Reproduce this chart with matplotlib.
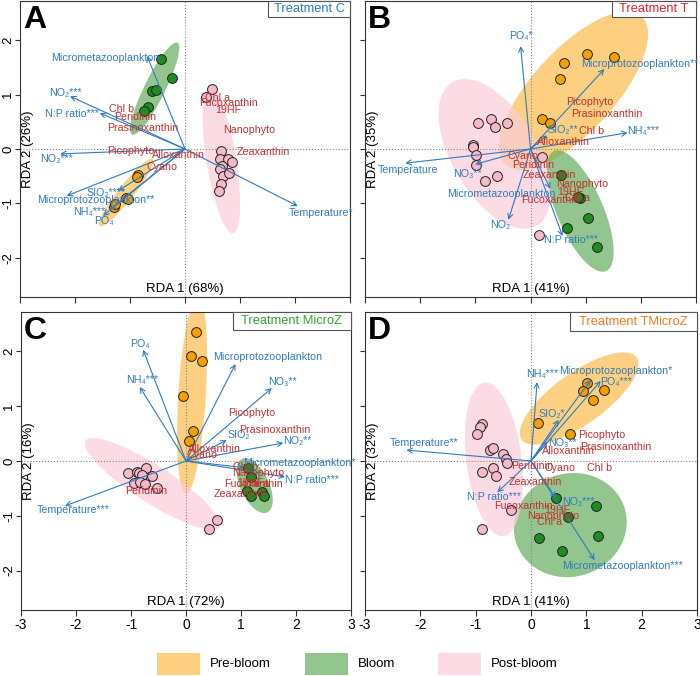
import matplotlib
matplotlib.use('Agg')
import matplotlib.pyplot as plt
from matplotlib.patches import Ellipse, Rectangle

plt.rcParams['font.family'] = ['Liberation Sans', 'DejaVu Sans']
plt.rcParams['axes.unicode_minus'] = False

# ---------------- panel A (Treatment C) ----------------
a_pre_x = [-0.85, -0.88, -1.08, -1.04, -1.30, -1.28]
a_pre_y = [-0.48, -0.51, -0.90, -0.92, -1.06, -1.01]
a_bloom_x = [-0.44, -0.24, -0.60, -0.53, -0.68, -0.75]
a_bloom_y = [1.65, 1.31, 1.06, 1.08, 0.78, 0.69]
a_post_x = [0.49, 0.38, 0.65, 0.64, 0.78, 0.86, 0.67, 0.64, 0.69, 0.80, 0.65, 0.62]
a_post_y = [1.10, 0.96, -0.04, -0.19, -0.19, -0.23, -0.31, -0.37, -0.50, -0.45, -0.65, -0.77]
# ellipses: cx, cy, length, width, angle  (pre, bloom, post)
a_ell = [(-1.07, -0.80, 1.56, 0.28, 52), (-0.55, 1.11, 1.88, 0.38, 64), (0.66, -0.20, 2.74, 0.54, 99)]
a_env = ['Micrometazooplankton', 'NO₂***', 'N:P ratio***', 'NO₃***', 'SIO₂****',
         'Microprotozooplankton**', 'NH₄***', 'PO₄', 'Temperature*']
a_env_x = [-0.69, -2.09, -1.55, -2.27, -1.22, -2.15, -1.49, -1.38, 2.05]
a_env_y = [1.71, 0.97, 0.66, -0.09, -0.77, -0.86, -1.23, -1.12, -1.05]
a_env_lx = [-1.44, -2.18, -2.05, -2.33, -1.44, -1.62, -1.75, -1.47, 2.47]
a_env_ly = [1.67, 1.03, 0.64, -0.19, -0.80, -0.93, -1.16, -1.32, -1.17]
a_spp = ['Chl b', 'Peridinin', 'Prasinoxanthin', 'Picophyto', 'Alloxanthin', 'Cyano',
         'Chl a', 'Fucoxanthin', '19HF', 'Nanophyto', 'Zeaxanthin']
a_spp_x = [-1.15, -0.90, -0.77, -0.98, -0.11, -0.42, 0.60, 0.80, 0.78, 1.16, 1.42]
a_spp_y = [0.73, 0.59, 0.39, -0.04, -0.11, -0.33, 0.94, 0.85, 0.71, 0.35, -0.06]

# ---------------- panel B (Treatment T) ----------------
b_pre_x = [0.60, 1.02, 1.51, 0.53, 0.20, 0.35]
b_pre_y = [1.58, 1.74, 1.69, 1.28, 0.55, 0.47]
b_bloom_x = [0.55, 0.89, 0.86, 1.05, 0.67, 1.20]
b_bloom_y = [-0.48, -0.90, -0.88, -1.27, -1.45, -1.80]
b_post_x = [-0.96, -0.71, -0.65, -0.42, -1.04, -1.05, -0.98, -0.98, 0.20, -0.60, -0.82, 0.15]
b_post_y = [0.48, 0.55, 0.40, 0.48, 0.07, 0.04, -0.11, -0.29, -0.15, -0.50, -0.59, -1.58]
b_ell = [(0.78, 1.07, 3.68, 1.50, 48), (0.90, -1.14, 2.40, 0.84, -67), (-0.65, -0.09, 3.05, 1.55, -60)]
b_env = ['PO₄*', 'Microprotozooplankton**', 'SIO₂**', 'NH₄***', 'Temperature', 'NO₃**',
         'Micrometazooplankton', 'NO₂', 'N:P ratio***']
b_env_x = [-0.18, 1.34, 0.30, 1.76, -2.27, -1.00, 0.36, -0.40, 0.58]
b_env_y = [1.89, 1.47, 0.25, 0.30, -0.26, -0.28, -0.73, -1.30, -1.60]
b_env_lx = [-0.17, 1.98, 0.58, 2.04, -2.22, -1.14, -0.53, -0.55, 0.73]
b_env_ly = [2.07, 1.56, 0.35, 0.33, -0.39, -0.46, -0.83, -1.40, -1.67]
b_spp = ['Picophyto', 'Prasinoxanthin', 'Chl b', 'Alloxanthin', 'Cyano', 'Peridinin',
         'Zeaxanthin', 'Nanophyto', '19HF', 'Chl a', 'Fucoxanthin']
b_spp_x = [1.07, 1.38, 1.11, 0.60, -0.13, 0.05, 0.35, 0.93, 0.73, 0.85, 0.36]
b_spp_y = [0.86, 0.64, 0.33, 0.13, -0.13, -0.29, -0.48, -0.64, -0.79, -0.90, -0.94]

# ---------------- panel C (Treatment MicroZ) ----------------
c_pre_x = [0.18, 0.09, 0.29, -0.05, 0.13, 0.05]
c_pre_y = [2.36, 1.92, 1.83, 1.19, 0.55, 0.37]
c_bloom_x = [1.13, 1.18, 1.10, 1.19, 1.38, 1.41]
c_bloom_y = [-0.13, -0.29, -0.55, -0.64, -0.57, -0.64]
c_post_x = [-1.05, -0.90, -0.85, -0.73, -0.62, -0.80, -0.95, -0.84, -0.75, -0.53, 0.56, 0.42]
c_post_y = [-0.22, -0.20, -0.22, -0.13, -0.27, -0.26, -0.40, -0.38, -0.42, -0.49, -1.08, -1.24]
c_ell = [(0.11, 1.20, 3.60, 0.50, 86.5), (1.25, -0.45, 1.08, 0.52, -65), (-0.61, -0.42, 2.90, 0.68, -33)]
c_env = ['PO₄', 'NH₄***', 'Microprotozooplankton', 'NO₃**', 'SIO₂', 'NO₂**',
         'Micrometazooplankton*', 'N:P ratio***', 'Temperature***']
c_env_x = [-0.78, -0.84, 0.90, 1.56, 0.74, 1.77, 1.05, 1.80, -2.20]
c_env_y = [2.03, 1.35, 1.77, 1.33, 0.38, 0.33, -0.12, -0.29, -0.82]
c_env_lx = [-0.84, -0.80, 1.49, 1.75, 0.96, 2.03, 2.07, 2.29, -2.05]
c_env_ly = [2.14, 1.48, 1.90, 1.44, 0.48, 0.37, -0.04, -0.35, -0.90]
c_spp = ['Picophyto', 'Prasinoxanthin', 'Alloxanthin', 'Cyano', 'Chl b', 'Nanophyto',
         '19HF', 'Fucoxanthin', 'Chl a', 'Zeaxanthin', 'Peridinin']
c_spp_x = [1.20, 1.62, 0.51, 0.29, 1.09, 1.31, 1.17, 1.23, 1.28, 0.98, -0.73]
c_spp_y = [0.88, 0.57, 0.22, 0.11, -0.11, -0.22, -0.40, -0.42, -0.42, -0.60, -0.55]

# ---------------- panel D (Treatment TMicroZ) ----------------
d_pre_x = [1.01, 0.94, 1.32, 1.12, 0.13, 0.70]
d_pre_y = [1.43, 1.28, 1.30, 1.12, 0.69, 0.49]
d_bloom_x = [0.45, 1.17, 0.67, 1.21, 0.14, 0.56]
d_bloom_y = [-0.68, -0.82, -1.02, -1.37, -1.41, -1.65]
d_post_x = [-0.88, -0.92, -0.97, -0.74, -0.68, -0.50, -0.45, -0.43, -0.88, -0.68, -0.63, -0.36, -0.88]
d_post_y = [0.68, 0.62, 0.49, 0.20, 0.24, 0.13, 0.04, -0.04, -0.20, -0.13, -0.27, -0.90, -1.24]
d_ell = [(0.87, 1.14, 2.56, 0.94, 36), (0.71, -1.17, 2.06, 1.88, 20), (-0.67, 0.03, 2.82, 1.00, 97)]
d_env = ['NH₄***', 'Microprotozooplankton*', 'PO₄***', 'SIO₂*', 'Temperature**', 'NO₃**',
         'N:P ratio***', 'NO₂***', 'Micrometazooplankton***']
d_env_x = [0.11, 1.08, 1.26, 0.50, -2.25, 0.30, -0.61, 0.45, 1.15]
d_env_y = [1.44, 1.48, 1.46, 0.75, 0.20, 0.35, -0.57, -0.68, -1.81]
d_env_lx = [0.21, 1.53, 1.53, 0.37, -1.93, 0.56, -0.67, 0.85, 1.66]
d_env_ly = [1.59, 1.64, 1.44, 0.86, 0.33, 0.33, -0.66, -0.75, -1.92]
d_spp = ['Picophyto', 'Prasinoxanthin', 'Alloxanthin', 'Peridinin', 'Cyano', 'Chl b',
         'Zeaxanthin', 'Fucoxanthin', '19HF', 'Nanophyto', 'Chl a']
d_spp_x = [1.28, 1.53, 0.68, 0.02, 0.52, 1.24, 0.07, -0.13, 0.47, 0.41, 0.34]
d_spp_y = [0.48, 0.26, 0.18, -0.09, -0.13, -0.13, -0.38, -0.82, -0.90, -1.00, -1.12]

letters = ['A', 'B', 'C', 'D']
treatments = ['Treatment C', 'Treatment T', 'Treatment MicroZ', 'Treatment TMicroZ']
treat_colors = ['#2b7cc0', '#e52228', '#2ea52e', '#f47a1f']
rda1 = ['RDA 1 (68%)', 'RDA 1 (41%)', 'RDA 1 (72%)', 'RDA 1 (41%)']
rda2 = ['RDA 2 (26%)', 'RDA 2 (35%)', 'RDA 2 (16%)', 'RDA 2 (32%)']
groups = ['Pre-bloom', 'Bloom', 'Post-bloom']

ell_colors = ['#fcbc4a', '#64ae5f', '#fbcdd9']
pt_colors = ['#f5a000', '#1e8c1e', '#f5b9c9']
blue = '#2f7cc0'
red = '#c4302e'

panels = [
    dict(pts=[(a_pre_x, a_pre_y), (a_bloom_x, a_bloom_y), (a_post_x, a_post_y)], ell=a_ell,
         env=a_env, ex=a_env_x, ey=a_env_y, lx=a_env_lx, ly=a_env_ly,
         spp=a_spp, sx=a_spp_x, sy=a_spp_y),
    dict(pts=[(b_pre_x, b_pre_y), (b_bloom_x, b_bloom_y), (b_post_x, b_post_y)], ell=b_ell,
         env=b_env, ex=b_env_x, ey=b_env_y, lx=b_env_lx, ly=b_env_ly,
         spp=b_spp, sx=b_spp_x, sy=b_spp_y),
    dict(pts=[(c_pre_x, c_pre_y), (c_bloom_x, c_bloom_y), (c_post_x, c_post_y)], ell=c_ell,
         env=c_env, ex=c_env_x, ey=c_env_y, lx=c_env_lx, ly=c_env_ly,
         spp=c_spp, sx=c_spp_x, sy=c_spp_y),
    dict(pts=[(d_pre_x, d_pre_y), (d_bloom_x, d_bloom_y), (d_post_x, d_post_y)], ell=d_ell,
         env=d_env, ex=d_env_x, ey=d_env_y, lx=d_env_lx, ly=d_env_ly,
         spp=d_spp, sx=d_spp_x, sy=d_spp_y),
]

W, H = 700., 676.
fig = plt.figure(figsize=(7, 6.76), dpi=100)


def rect(l, t, r, b):
    return [l / W, 1 - b / H, (r - l) / W, (b - t) / H]


# pixel boxes of the four plotting regions
boxes = [(20, 1, 350, 297), (365, 1, 696, 297), (21, 312, 351, 610), (365, 312, 697, 610)]
# treatment label boxes, axes fraction (x0, y0)
tboxes = [(0.752, 0.946), (0.746, 0.946), (0.642, 0.940), (0.617, 0.936)]

for i, p in enumerate(panels):
    ax = fig.add_axes(rect(*boxes[i]))
    ax.set_xlim(-3, 3)
    ax.set_ylim(-2.72, 2.72)

    for g in range(3):
        cx, cy, L, Wd, ang = p['ell'][g]
        e = Ellipse((cx, cy), L, Wd, angle=ang, facecolor=ell_colors[g], edgecolor='none',
                    alpha=0.7, zorder=1)
        ax.add_patch(e)

    ax.axhline(0, color='#888888', lw=0.8, ls=':', zorder=2)
    ax.axvline(0, color='#888888', lw=0.8, ls=':', zorder=2)

    for g in range(3):
        xs, ys = p['pts'][g]
        ax.scatter(xs, ys, s=50, c=pt_colors[g], edgecolors='#222222', linewidths=0.7, zorder=3)

    for k in range(len(p['env'])):
        ax.annotate('', xy=(p['ex'][k], p['ey'][k]), xytext=(0, 0),
                    arrowprops=dict(arrowstyle='->,head_length=0.35,head_width=0.18',
                                    color=blue, lw=0.8, shrinkA=0, shrinkB=0), zorder=4)
        ax.text(p['lx'][k], p['ly'][k], p['env'][k], color=blue, fontsize=7.7,
                ha='center', va='center', zorder=5)

    for k in range(len(p['spp'])):
        ax.text(p['sx'][k], p['sy'][k], p['spp'][k], color=red, fontsize=7.7,
                ha='center', va='center', zorder=5)

    ax.text(-2.86, 0, rda2[i], rotation=90, fontsize=9.5, ha='center', va='center')
    ax.text(0, -2.57, rda1[i], fontsize=9.5, ha='center', va='center')

    ax.text(0.009, 0.91, letters[i], transform=ax.transAxes, fontsize=23, fontweight='bold',
            ha='left', va='baseline')

    x0, y0 = tboxes[i]
    ax.add_patch(Rectangle((x0, y0), 1 - x0, 1 - y0, transform=ax.transAxes, facecolor='white',
                           edgecolor='#555555', lw=0.8, zorder=6, clip_on=False))
    ax.text((x0 + 1) / 2, (y0 + 1) / 2, treatments[i], transform=ax.transAxes, color=treat_colors[i],
            fontsize=9.3, ha='center', va='center', zorder=7)

    ax.set_xticks([-3, -2, -1, 0, 1, 2, 3])
    ax.set_yticks([-2, -1, 0, 1, 2])
    ax.tick_params(direction='out', length=4, width=0.8, labelsize=10, pad=2, color='#333333')
    ax.tick_params(axis='y', labelrotation=90, length=3.5, pad=0.5, labelsize=9.5)
    for t in ax.get_yticklabels():
        t.set_va('center')
    if i < 2:
        ax.tick_params(labelbottom=False)
    if i % 2 == 1:
        ax.tick_params(labelleft=False)
    for s in ax.spines.values():
        s.set_linewidth(0.8)
        s.set_color('#333333')

# legend drawn in figure pixels
leg_x = [157, 305, 438]
for g in range(3):
    fig.patches.append(Rectangle((leg_x[g] / W, 1 - 675 / H), 43 / W, 22 / H, transform=fig.transFigure,
                                 facecolor=ell_colors[g], alpha=0.7, edgecolor='none'))
    fig.text((leg_x[g] + 53) / W, 1 - 664 / H, groups[g], fontsize=9.5, ha='left', va='center')

fig.savefig('out.png', dpi=100)
